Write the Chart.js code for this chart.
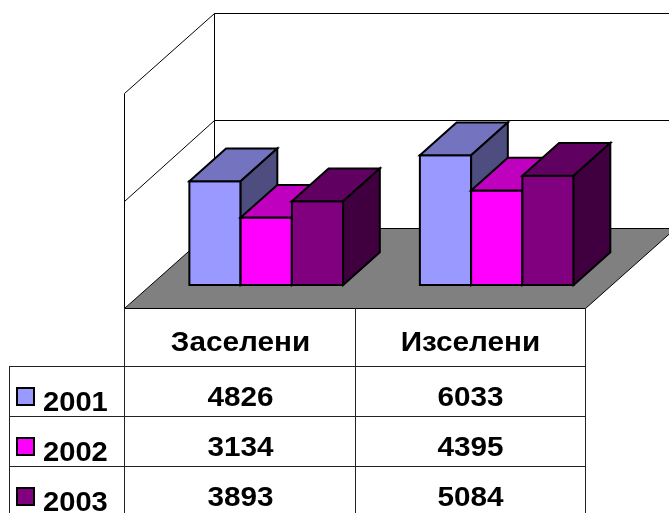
<!DOCTYPE html>
<html>
<head>
<meta charset="utf-8">
<script src="https://cdn.jsdelivr.net/npm/chart.js@4.4.0/dist/chart.umd.min.js"></script>
<style>
  html, body { margin: 0; padding: 0; background: #fff; }
  #wrap { position: relative; width: 669px; height: 513px; overflow: hidden; }
  #chart { position: absolute; left: 0; top: 0; }
  #dataTable { position: absolute; left: 0; top: 0; font-family: "Liberation Sans", Arial, sans-serif; font-weight: bold; color: #000; }
  .cell { position: absolute; box-sizing: border-box; border: 0 solid #222; }
  .txt { position: absolute; left: 0; right: 0; text-align: center; font-size: 27px; line-height: 27px; white-space: nowrap; transform: scaleX(1.1); }
  .key { position: absolute; box-sizing: border-box; width: 19px; height: 19px; border: 2px solid #000; }
  .year { position: absolute; font-size: 28px; line-height: 28px; white-space: nowrap; transform: scaleX(1.04); transform-origin: left center; }
</style>
</head>
<body>
<div id="wrap">
  <canvas id="chart" width="669" height="513"></canvas>
  <div id="dataTable"></div>
</div>
<script>
// ── Data ──────────────────────────────────────────────────────────────────────
const categories = ['Заселени', 'Изселени'];
const years      = ['2001', '2002', '2003'];
const values2001 = [4826, 6033];
const values2002 = [3134, 4395];
const values2003 = [3893, 5084];
const yTicks     = [0, 5000, 10000];

const seriesValues = [values2001, values2002, values2003];
// front / top / side shade for each series
const seriesColors = [
  ['#9999FF', '#7373BF', '#4D4D80'],
  ['#FF00FF', '#BF00BF', '#800080'],
  ['#800080', '#600060', '#400040'],
];

// ── 3D look (oblique projection offsets, px) ──────────────────────────────────
const BAR_DEPTH   = { x: 36.7, y: -32.7 };
const FLOOR_FRONT = { x: -27, y: 23 };     // floor front edge, relative to bar plane
const FLOOR_DEPTH = { x: 90, y: -80.5 };

const px = v => Math.round(v) + 0.5;

function poly(ctx, pts, fill, lw) {
  ctx.beginPath();
  pts.forEach(([x, y], i) => (i ? ctx.lineTo(x, y) : ctx.moveTo(x, y)));
  ctx.closePath();
  if (fill) { ctx.fillStyle = fill; ctx.fill(); }
  ctx.lineWidth = lw;
  ctx.strokeStyle = '#000';
  ctx.stroke();
}

const box3d = {
  id: 'box3d',
  beforeDatasetsDraw(chart) {
    const { ctx, chartArea: a, scales: { y } } = chart;
    const fx = FLOOR_FRONT.x, fy = FLOOR_FRONT.y;
    const bx = fx + FLOOR_DEPTH.x, by = fy + FLOOR_DEPTH.y;
    const zero = y.getPixelForValue(0);
    const top  = y.getPixelForValue(yTicks[yTicks.length - 1]);
    const W = chart.width + 2;

    ctx.save();
    ctx.lineWidth = 1;
    ctx.strokeStyle = '#000';
    ctx.beginPath();
    // wall edges
    ctx.moveTo(px(a.left + fx), px(top + fy));
    ctx.lineTo(px(a.left + fx), px(zero + fy));
    ctx.moveTo(px(a.left + bx), px(top + by));
    ctx.lineTo(px(a.left + bx), px(zero + by));
    // grid lines on side and back wall
    yTicks.filter(t => t > 0).forEach(t => {
      const p = y.getPixelForValue(t);
      ctx.moveTo(px(a.left + fx), px(p + fy));
      ctx.lineTo(px(a.left + bx), px(p + by));
      ctx.lineTo(W, px(p + by));
    });
    ctx.stroke();

    // floor
    poly(ctx, [
      [px(a.left + fx), px(zero + fy)],
      [px(a.right + fx), px(zero + fy)],
      [px(a.right + bx), px(zero + by)],
      [px(a.left + bx), px(zero + by)],
    ], '#808080', 1);
    ctx.restore();
  },
  afterDatasetsDraw(chart) {
    const { ctx } = chart;
    const dx = BAR_DEPTH.x, dy = BAR_DEPTH.y;
    ctx.save();
    ctx.lineJoin = 'miter';
    // draw series in order so later bars overlap earlier side faces
    chart.data.datasets.forEach((ds, i) => {
      const cols = seriesColors[i];
      chart.getDatasetMeta(i).data.forEach(bar => {
        const { x, y, base, width } = bar.getProps(['x', 'y', 'base', 'width'], true);
        const l = x - width / 2, r = x + width / 2;
        poly(ctx, [[l, y], [r, y], [r, base], [l, base]], cols[0], 2);
        poly(ctx, [[l, y], [l + dx, y + dy], [r + dx, y + dy], [r, y]], cols[1], 2);
        poly(ctx, [[r, y], [r + dx, y + dy], [r + dx, base + dy], [r, base]], cols[2], 2);
      });
    });
    ctx.restore();
  }
};

new Chart(document.getElementById('chart'), {
  type: 'bar',
  data: {
    labels: categories,
    datasets: years.map((yr, i) => ({
      label: yr,
      data: seriesValues[i],
      backgroundColor: seriesColors[i][0],
      borderColor: '#000',
      borderWidth: 0,
      categoryPercentage: 0.667,
      barPercentage: 1
    }))
  },
  options: {
    responsive: false,
    animation: false,
    layout: { padding: { left: 151, right: 57, top: 70, bottom: 228 } },
    plugins: { legend: { display: false }, tooltip: { enabled: false } },
    scales: {
      x: { display: false },
      y: { display: false, min: 0, max: yTicks[yTicks.length - 1] }
    }
  },
  plugins: [box3d]
});

// ── Data table under the plot ─────────────────────────────────────────────────
const colEdges = [9, 124, 355, 585];
const rowEdges = [308, 366, 416, 466, 516];
const tableEl = document.getElementById('dataTable');

function addCell(r, c, html) {
  const d = document.createElement('div');
  d.className = 'cell';
  d.style.left = colEdges[c] + 'px';
  d.style.top = rowEdges[r] + 'px';
  d.style.width = (colEdges[c + 1] - colEdges[c] + 1) + 'px';
  d.style.height = (rowEdges[r + 1] - rowEdges[r] + 1) + 'px';
  if (r > 0) d.style.borderTopWidth = '1px';
  if (r > 0 || c > 0) d.style.borderLeftWidth = '1px';
  if (c === colEdges.length - 2) d.style.borderRightWidth = '1px';
  d.innerHTML = html;
  tableEl.appendChild(d);
}

addCell(0, 0, '');
categories.forEach((cat, c) => addCell(0, c + 1, `<div class="txt" style="top:21px">${cat}</div>`));
years.forEach((yr, r) => {
  addCell(r + 1, 0,
    `<span class="key" style="left:6px;top:20px;background:${seriesColors[r][0]}"></span>` +
    `<span class="year" style="left:33px;top:21px">${yr}</span>`);
  seriesValues[r].forEach((v, c) => addCell(r + 1, c + 1, `<div class="txt" style="top:17px">${v}</div>`));
});
</script>
</body>
</html>
